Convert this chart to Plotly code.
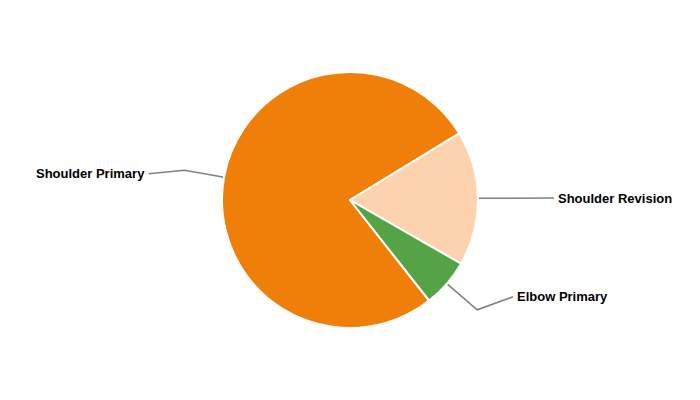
import math
import plotly.graph_objects as go

# Data
categories = ["Shoulder Primary", "Shoulder Revision", "Elbow Primary"]
values = [76.9, 17.0, 6.1]
colors = ["#F07F09", "#FDD3AF", "#54A447"]

W, H = 700, 400
cx, cy, R = 350, 200, 128
rotation = 141.8  # compass degrees where first slice starts (clockwise)

fig = go.Figure()
fig.add_trace(go.Pie(
    labels=categories, values=values, sort=False, direction="clockwise",
    rotation=rotation, textinfo="none", hoverinfo="label+percent",
    marker=dict(colors=colors, line=dict(color="white", width=2)),
    domain=dict(x=[0, 1], y=[(cy - R) / H, (cy + R) / H]),
    showlegend=False,
))

total = sum(values)
cum = 0.0
annotations = []
for name, v in zip(categories, values):
    a = math.radians(rotation + 360.0 * (cum + v / 2) / total)
    cum += v
    s, c = math.sin(a), math.cos(a)
    x0, y0 = cx + R * s, cy - R * c
    xb, yb = cx + 168 * s, cy - 168 * c
    side = 1 if s >= 0 else -1
    ly = cy - 148 * c
    xe = xb + side * 36
    fig.add_trace(go.Scatter(
        x=[x0, xb, xe], y=[y0, yb, ly], mode="lines",
        line=dict(color="#808080", width=1.5), hoverinfo="skip", showlegend=False,
    ))
    annotations.append(dict(
        x=xe + side * 2, y=ly, xref="x", yref="y", text=name, showarrow=False,
        xanchor="left" if side > 0 else "right", yanchor="middle",
        font=dict(family="Liberation Sans, Arial, sans-serif", size=13, color="#000000", weight="bold"),
    ))

fig.update_layout(
    width=W, height=H, margin=dict(l=0, r=0, t=0, b=0),
    paper_bgcolor="white", plot_bgcolor="rgba(0,0,0,0)",
    xaxis=dict(range=[0, W], visible=False, fixedrange=True),
    yaxis=dict(range=[H, 0], visible=False, fixedrange=True),
    annotations=annotations,
)
fig.write_html("out.html", config={"displayModeBar": False},
               post_script="document.body.style.margin='0';document.body.style.overflow='hidden';")
